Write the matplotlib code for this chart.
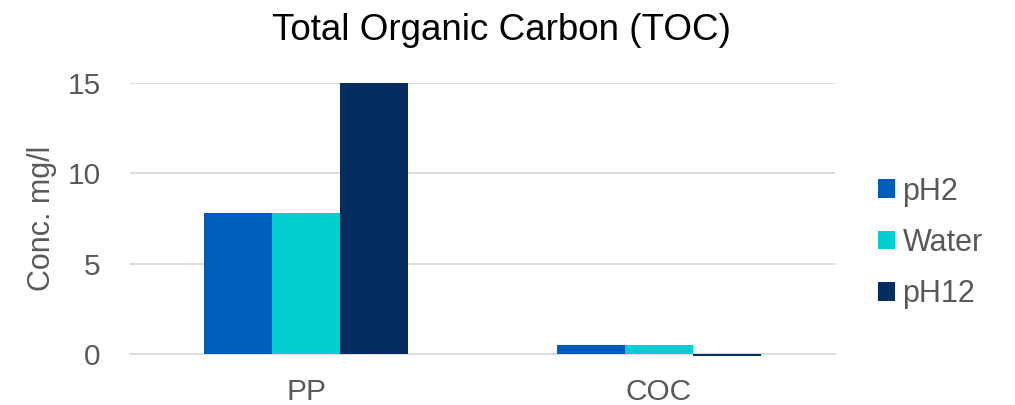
import matplotlib
matplotlib.use("Agg")
import matplotlib.pyplot as plt
import numpy as np

plt.rcParams['font.family'] = ['Liberation Sans', 'DejaVu Sans']

categories = ["PP", "COC"]
series_names = ["pH2", "Water", "pH12"]
ph2_values = [7.8, 0.5]
water_values = [7.8, 0.5]
ph12_values = [15.0, -0.13]
series_values = [ph2_values, water_values, ph12_values]
colors = ["#005CB9", "#00CED1", "#062D5F"]
yticks = [0, 5, 10, 15]

text_grey = "#595959"
grid_grey = "#D9D9D9"

fig = plt.figure(figsize=(10.15, 4.05), dpi=100)
ax = fig.add_axes([130 / 1015, 1 - 354 / 405, (835 - 130) / 1015, (354 - 83) / 405])

x = np.arange(len(categories))
bar_w = 0.193
for i, (name, vals, c) in enumerate(zip(series_names, series_values, colors)):
    ax.bar(x + (i - 1) * bar_w, vals, width=bar_w, color=c, label=name,
           clip_on=False, zorder=3)

ax.set_xlim(-0.5, len(categories) - 0.5)
ax.set_ylim(0, 15)
ax.set_yticks(yticks)
ax.set_yticklabels([str(t) for t in yticks])
ax.set_xticks(x)
ax.set_xticklabels(categories)

ax.grid(axis='y', color=grid_grey, linewidth=1.3, zorder=0)
ax.set_axisbelow(True)
for s in ["top", "right", "left"]:
    ax.spines[s].set_visible(False)
ax.spines["bottom"].set_color(grid_grey)
ax.spines["bottom"].set_linewidth(1.3)
ax.spines["bottom"].set_zorder(2)

ax.tick_params(axis='both', length=0, labelsize=21.5, labelcolor=text_grey)
ax.tick_params(axis='y', pad=21)
ax.tick_params(axis='x', pad=17)

ax.set_ylabel("Conc. mg/l", fontsize=22, color=text_grey)
ax.yaxis.set_label_coords(-0.103, 0.50)

fig.text(501 / 1015, 1 - 30 / 405, "Total Organic Carbon (TOC)", ha='center',
         va='center', fontsize=26.5, color='black')

leg = ax.legend(loc='center left', bbox_to_anchor=(1.022, 0.41), frameon=False,
                fontsize=22, labelcolor=text_grey, handlelength=0.55,
                handleheight=0.55, handletextpad=0.25, labelspacing=0.7)

fig.savefig("out.png", dpi=100)
